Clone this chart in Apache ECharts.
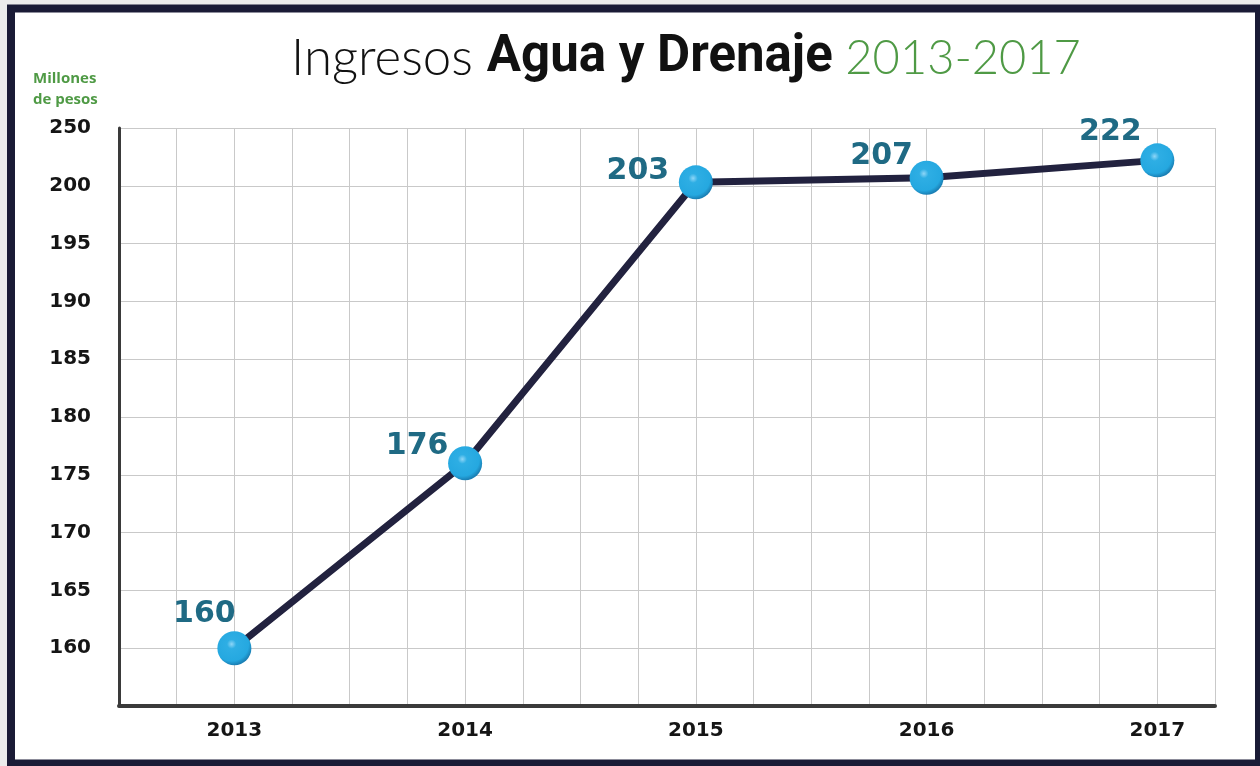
<!DOCTYPE html>
<html><head><meta charset="utf-8">
<script src="https://cdn.jsdelivr.net/npm/echarts@6/dist/echarts.min.js"></script>
<style>html,body{margin:0;padding:0;background:#ececec}#c{width:1260px;height:766px}</style>
</head><body><div id="c"></div>
<script>
// ---- data ----
const years = ['2013', '2014', '2015', '2016', '2017'];
const ingresos = [160, 176, 203, 207, 222];          // millones de pesos
const yTickLabels = ['160', '165', '170', '175', '180', '185', '190', '195', '200', '250'];
const labelOffsets = [[-30, -34], [-48, -17], [-58, -11], [-45, -22], [-47, -28]];

// The reference axis is broken: the last step (200 -> 250) spans one grid cell of 5 units.
const axisBase = 160, axisStep = 5, breakAt = 200, breakTop = 250;
const compress = axisStep / (breakTop - breakAt);
function plotY(v) { return v <= breakAt ? v : breakAt + (v - breakAt) * compress; }
function yLabel(v) {
  const idx = Math.round((v - axisBase) / axisStep);
  return (idx >= 0 && idx < yTickLabels.length) ? yTickLabels[idx] : '';
}

const chart = echarts.init(document.getElementById('c'), null, { renderer: 'canvas' });
const option = {
  animation: false,
  backgroundColor: '#ececec',
  graphic: [
    { type: 'rect', z: -10, silent: true,
      shape: { x: 11, y: 8.5, width: 1248, height: 755 },
      style: { fill: '#ffffff', stroke: '#1a1b36', lineWidth: 8 } },
    { type: 'text', left: 33, top: 68, z: 5,
      style: { text: 'Millones\nde pesos', fill: '#4f9a45', font: '700 15px "Open Sans"', lineHeight: 21 } }
  ],
  title: {
    left: 286, top: 28,
    text: '{a|Ingresos }{b|Agua y Drenaje }{c|2013-2017}',
    textStyle: {
      rich: {
        a: { fontFamily: 'Lato', fontWeight: 300, fontSize: 51, color: '#111' },
        b: { fontFamily: 'Roboto', fontWeight: 700, fontSize: 51, color: '#111' },
        c: { fontFamily: 'Lato', fontWeight: 300, fontSize: 47, color: '#4f9a45' }
      }
    }
  },
  grid: { left: 119, right: 45, top: 128, bottom: 60, containLabel: false },
  xAxis: {
    type: 'value', min: -0.5, max: 4.25, interval: 0.25,
    axisLine: { show: true, onZero: false, lineStyle: { color: '#3a3a3a', width: 4 } },
    axisTick: { show: false },
    splitLine: { show: true, lineStyle: { color: '#c9c9c9', width: 1 } },
    axisLabel: {
      margin: 15, color: '#151515', fontFamily: 'DejaVu Sans', fontWeight: 'bold', fontSize: 20,
      showMinLabel: false, showMaxLabel: false,
      formatter: function (v) {
        const i = Math.round(v);
        return (Math.abs(v - i) < 1e-6 && i >= 0 && i < years.length) ? years[i] : '';
      }
    }
  },
  yAxis: {
    type: 'value', min: 155, max: 205, interval: 5,
    axisLine: { show: true, onZero: false, lineStyle: { color: '#3a3a3a', width: 3 } },
    axisTick: { show: false },
    splitLine: { show: true, lineStyle: { color: '#c9c9c9', width: 1 } },
    axisLabel: {
      margin: 28, color: '#151515', fontFamily: 'DejaVu Sans', fontWeight: 'bold', fontSize: 20,
      formatter: yLabel
    }
  },
  series: [{
    type: 'line',
    z: 5,
    data: ingresos.map((v, i) => ({
      value: [i, plotY(v)],
      label: { offset: labelOffsets[i] }
    })),
    lineStyle: { color: '#22223f', width: 7 },
    symbol: 'circle', symbolSize: 34,
    itemStyle: {
      color: {
        type: 'radial', x: 0.42, y: 0.38, r: 0.62,
        colorStops: [
          { offset: 0, color: '#8fd6f7' },
          { offset: 0.22, color: '#2eaee4' },
          { offset: 0.8, color: '#25a8e0' },
          { offset: 1, color: '#1a7fb4' }
        ]
      }
    },
    label: {
      show: true, position: 'inside', align: 'center', verticalAlign: 'middle',
      color: '#1f6a84', fontFamily: 'DejaVu Sans', fontWeight: 'bold', fontSize: 30,
      formatter: p => String(ingresos[p.dataIndex])
    },
    emphasis: { disabled: true }
  }]
};
chart.setOption(option);
</script>
</body></html>
